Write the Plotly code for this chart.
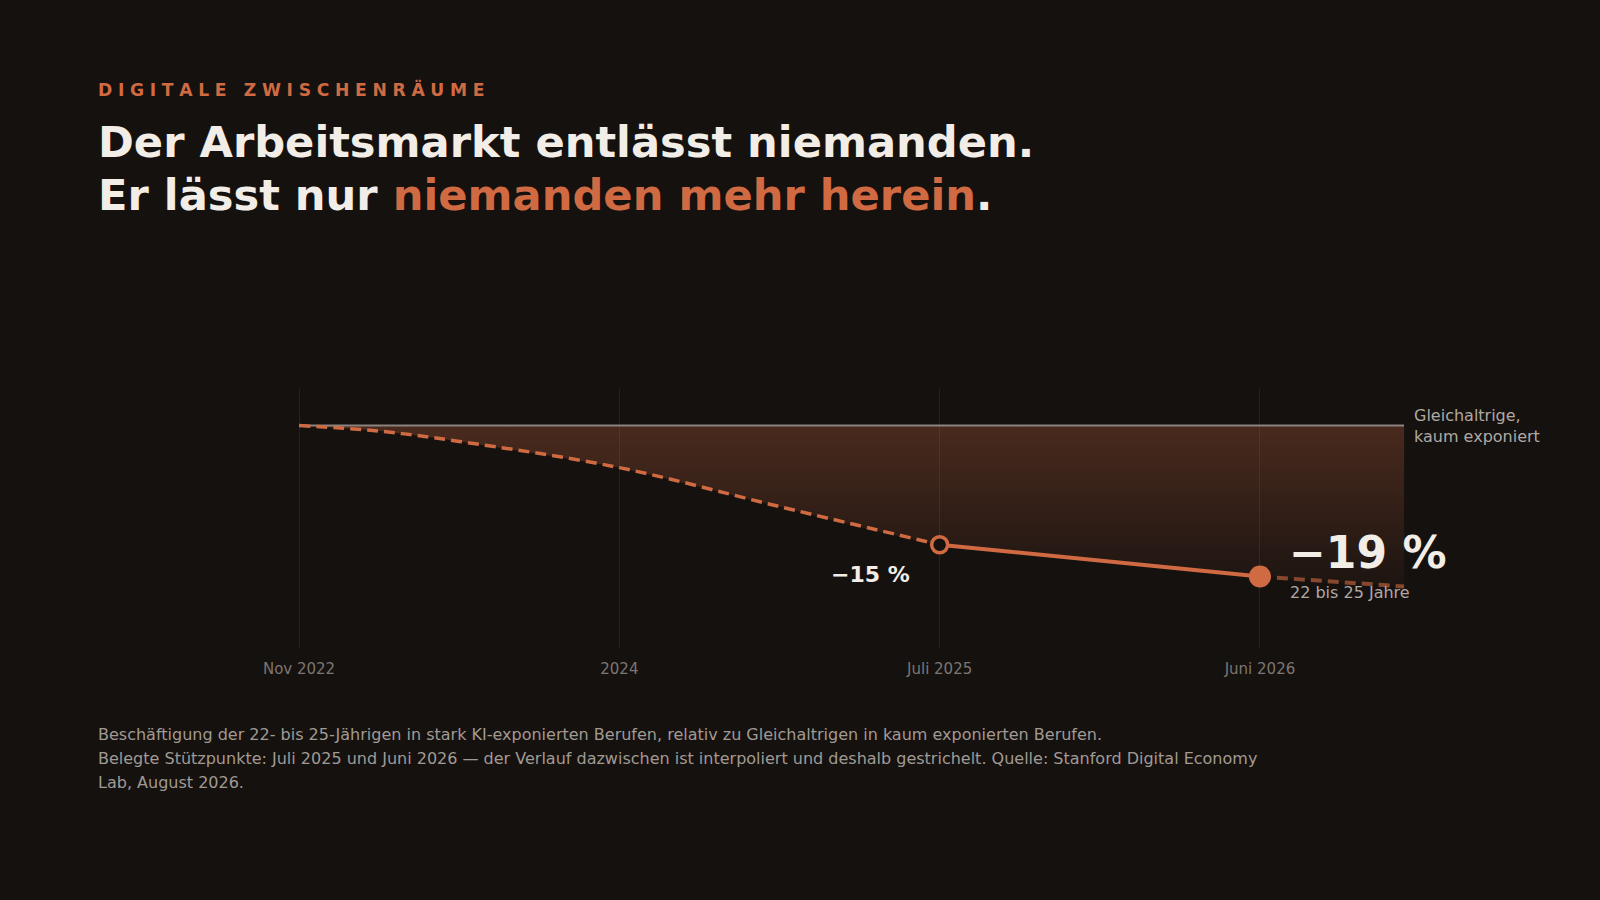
import plotly.graph_objects as go

# Positionen auf der Zeitachse (Index der Stuetzpunkte)
tick_pos = [0, 1, 2, 3]
tick_labels = ["Nov 2022", "2024", "Juli 2025", "Juni 2026"]

# interpolierter Verlauf bis Juli 2025 (gestrichelt)
interp_x = [0, 0.25, 0.5, 1, 1.5, 2]
interp_y = [0, -0.7, -2.0, -5.3, -10.2, -15]

# belegte Stuetzpunkte
belegt_x = [2, 3]
belegt_y = [-15, -19]

# Ausblick nach Juni 2026
ausblick_x = [3, 3.45]
ausblick_y = [-19, -20.25]

# Referenz: Gleichaltrige, kaum exponiert
ref_x = [0, 3.45]
ref_y = [0, 0]

BG = "#15110f"
ORANGE = "#d06a42"
WEISS = "#f2ede6"
GRAU = "#b0a8a2"
FONT = "DejaVu Sans"

fig = go.Figure()

# Flaeche zwischen Referenz und Verlauf
fig.add_trace(go.Scatter(x=ref_x, y=ref_y, mode="lines", line=dict(width=0),
                         hoverinfo="skip", showlegend=False))
fig.add_trace(go.Scatter(
    x=interp_x + belegt_x[1:] + ausblick_x[1:],
    y=interp_y + belegt_y[1:] + ausblick_y[1:],
    mode="lines", line=dict(width=0, shape="spline", smoothing=0.6),
    fill="tonexty",
    fillgradient=dict(type="vertical",
                      colorscale=[[0, "rgba(208,106,66,0.04)"], [1, "rgba(208,106,66,0.28)"]]),
    hoverinfo="skip", showlegend=False))

fig.add_trace(go.Scatter(x=ref_x, y=ref_y, mode="lines",
                         line=dict(color="#8c8480", width=2),
                         hoverinfo="skip", showlegend=False))

fig.add_trace(go.Scatter(x=interp_x, y=interp_y, mode="lines",
                         line=dict(color=ORANGE, width=3.5, dash="11px,6px", shape="spline"),
                         hoverinfo="skip", showlegend=False))

fig.add_trace(go.Scatter(x=ausblick_x, y=ausblick_y, mode="lines",
                         line=dict(color="rgba(208,106,66,0.6)", width=4, dash="11px,6px"),
                         hoverinfo="skip", showlegend=False))

fig.add_trace(go.Scatter(x=belegt_x, y=belegt_y, mode="lines",
                         line=dict(color=ORANGE, width=4),
                         hoverinfo="skip", showlegend=False))

# Marker: Juli 2025 offen, Juni 2026 voll
fig.add_trace(go.Scatter(x=belegt_x[:1], y=belegt_y[:1], mode="markers",
                         marker=dict(size=16, color=BG, line=dict(color=ORANGE, width=3.5)),
                         hoverinfo="skip", showlegend=False))
fig.add_trace(go.Scatter(x=belegt_x[1:], y=belegt_y[1:], mode="markers",
                         marker=dict(size=22, color=ORANGE),
                         hoverinfo="skip", showlegend=False))

annotations = [
    dict(x=belegt_x[0], y=belegt_y[0], xref="x", yref="y", text="<b>\u221215 %</b>",
         xanchor="right", yanchor="middle", xshift=-28, yshift=-30, showarrow=False,
         font=dict(family=FONT, size=22, color=WEISS)),
    dict(x=belegt_x[1], y=belegt_y[1], xref="x", yref="y", text="<b>\u221219 %</b>",
         xanchor="left", yanchor="middle", xshift=27, yshift=24, showarrow=False,
         font=dict(family=FONT, size=44, color=WEISS)),
    dict(x=belegt_x[1], y=belegt_y[1], xref="x", yref="y", text="22 bis 25 Jahre",
         xanchor="left", yanchor="middle", xshift=28, yshift=-16, showarrow=False,
         font=dict(family=FONT, size=16, color=GRAU)),
    dict(x=ref_x[1], y=ref_y[1], xref="x", yref="y", text="Gleichaltrige,<br>kaum exponiert",
         xanchor="left", yanchor="middle", xshift=8, showarrow=False, align="left",
         font=dict(family=FONT, size=16, color=GRAU)),
]

kicker = "\u2004".join("DIGITALE") + "\u2004 \u2004" + "\u2004".join("ZWISCHENRÄUME")
annotations.append(dict(x=0, y=2.15, xref="paper", yref="paper", text="<b>" + kicker + "</b>",
                        xanchor="left", yanchor="middle", showarrow=False,
                        font=dict(family=FONT, size=17.2, color=ORANGE)))
annotations.append(dict(x=0, y=1.946, xref="paper", yref="paper",
                        text="<b>Der Arbeitsmarkt entlässt niemanden.</b>",
                        xanchor="left", yanchor="middle", showarrow=False,
                        font=dict(family=FONT, size=43.2, color=WEISS)))
annotations.append(dict(x=0, y=1.742, xref="paper", yref="paper",
                        text="<b>Er lässt nur <span style='color:" + ORANGE + "'>niemanden mehr herein</span>.</b>",
                        xanchor="left", yanchor="middle", showarrow=False,
                        font=dict(family=FONT, size=43.2, color=WEISS)))

fussnote = [
    "Beschäftigung der 22- bis 25-Jährigen in stark KI-exponierten Berufen, relativ zu Gleichaltrigen in kaum exponierten Berufen.",
    "Belegte Stützpunkte: Juli 2025 und Juni 2026 — der Verlauf dazwischen ist interpoliert und deshalb gestrichelt. Quelle: Stanford Digital Economy",
    "Lab, August 2026.",
]
for i, zeile in enumerate(fussnote):
    annotations.append(dict(x=0, y=-0.3346 - i * 0.0923, xref="paper", yref="paper", text=zeile,
                            xanchor="left", yanchor="middle", showarrow=False,
                            font=dict(family=FONT, size=16, color="#a19a94")))

fig.update_layout(
    width=1600, height=900,
    paper_bgcolor=BG, plot_bgcolor=BG,
    margin=dict(l=96, r=96, t=388, b=252),
    font=dict(family=FONT),
    showlegend=False,
    annotations=annotations,
    xaxis=dict(range=[-0.634, 3.762], tickvals=tick_pos, ticktext=tick_labels,
               showgrid=True, gridcolor="#262120", gridwidth=1, zeroline=False,
               showline=False, ticks="", ticklabelstandoff=10,
               tickfont=dict(family=FONT, size=15, color="#7d7671"), fixedrange=True),
    yaxis=dict(range=[-27.99, 4.72], showgrid=False, zeroline=False, showticklabels=False,
               showline=False, fixedrange=True),
)

fig.write_html("out.html", config={"displayModeBar": False},
               post_script="document.body.style.margin='0';document.body.style.background='" + BG + "';")
